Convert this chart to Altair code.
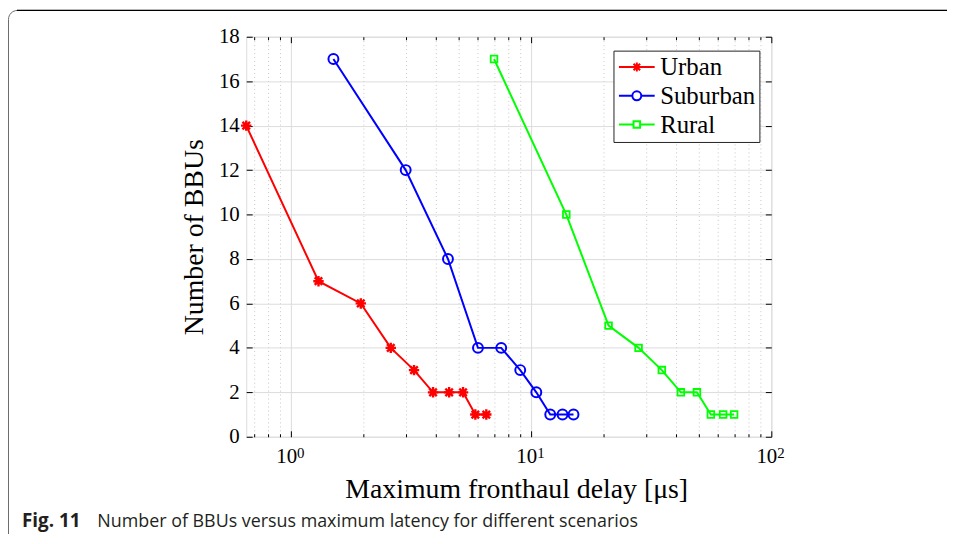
import altair as alt
import pandas as pd

# ---------------- data ----------------
series_names = ["Urban", "Suburban", "Rural"]
series_colors = ["#ff0000", "#0000ff", "#00ff00"]

urban_delay = [0.65, 1.3, 1.95, 2.6, 3.25, 3.9, 4.55, 5.2, 5.85, 6.5]
urban_bbus = [14, 7, 6, 4, 3, 2, 2, 2, 1, 1]
suburban_delay = [1.5, 3.0, 4.5, 6.0, 7.5, 9.0, 10.5, 12.0, 13.5, 15.0]
suburban_bbus = [17, 12, 8, 4, 4, 3, 2, 1, 1, 1]
rural_delay = [7, 14, 21, 28, 35, 42, 49, 56, 63, 70]
rural_bbus = [17, 10, 5, 4, 3, 2, 2, 1, 1, 1]

x_tick_values = [0.7, 0.8, 0.9, 1, 2, 3, 4, 5, 6, 7, 8, 9,
                 10, 20, 30, 40, 50, 60, 70, 80, 90, 100]
x_major_values = [1, 10, 100]
x_major_base = "10"
x_major_exponents = ["0", "1", "2"]
y_tick_values = [0, 2, 4, 6, 8, 10, 12, 14, 16, 18]

x_title = "Maximum fronthaul delay [\u03bcs]"
y_title = "Number of BBUs"
caption_label = "Fig. 11"
caption_text = "Number of BBUs versus maximum latency for different scenarios"

# ---------------- tables ----------------
rows = []
for name, xs, ys in [("Urban", urban_delay, urban_bbus),
                     ("Suburban", suburban_delay, suburban_bbus),
                     ("Rural", rural_delay, rural_bbus)]:
    for i, (xv, yv) in enumerate(zip(xs, ys)):
        rows.append({"series": name, "delay": xv, "bbus": yv, "order": i})
df = pd.DataFrame(rows)
exp_df = pd.DataFrame({"v": x_major_values, "e": x_major_exponents})

SERIF = "Liberation Serif"
SANS = "Open Sans"
W, H = 529, 403
PAD_L, PAD_T, PAD_R, PAD_B = 240, 27, 177, 96

major_test = " || ".join(f"datum.value == {v}" for v in x_major_values)
label_expr = "(" + major_test + f") ? '{x_major_base}' : ''"

xscale = alt.Scale(type="log", domain=[0.65, 100], nice=False)
yscale = alt.Scale(domain=[0, 18], nice=False, zero=False)

main_x_axis = alt.Axis(
    values=x_tick_values, labelExpr=label_expr, labelFont=SERIF, labelFontSize=21,
    labelColor="black", labelPadding=9, labelFlush=False, labelOverlap=False,
    labelOffset=-5,
    ticks=False, domain=False, grid=True,
    gridColor={"condition": {"test": major_test, "value": "#dcdcdc"}, "value": "#c8c8c8"},
    gridDash={"condition": {"test": major_test, "value": []}, "value": [1, 3]},
    title=x_title, titleFont=SERIF, titleFontSize=28, titleFontWeight="normal",
    titleColor="black", titleX=272, titleY=61, titleBaseline="alphabetic",
)
main_y_axis = alt.Axis(
    values=y_tick_values, labelFont=SERIF, labelFontSize=21, labelColor="black",
    labelPadding=7, labelFlush=False, ticks=False, domain=False, grid=True,
    gridColor="#dcdcdc",
    title=y_title, titleFont=SERIF, titleFontSize=28, titleFontWeight="normal",
    titleColor="black", titleX=-52, titleY=H / 2, titleBaseline="middle", titleAngle=270,
)

def x_tick_axis(orient, offset):
    return alt.Axis(orient=orient, offset=offset, values=x_tick_values, labels=False,
                    domain=False, grid=False, title=None, ticks=True, tickColor="black",
                    tickWidth=1,
                    tickSize={"condition": {"test": major_test, "value": 6}, "value": 3})

def y_tick_axis(orient, offset):
    return alt.Axis(orient=orient, offset=offset, values=y_tick_values, labels=False,
                    domain=False, grid=False, title=None, ticks=True, tickColor="black",
                    tickWidth=1, tickSize=6)

base = alt.Chart(df)

def line_layer(i, xaxis, yaxis):
    return base.transform_filter(alt.datum.series == series_names[i]).mark_line(
        strokeWidth=2, clip=False, color=series_colors[i]
    ).encode(
        x=alt.X("delay:Q", scale=xscale, axis=xaxis),
        y=alt.Y("bbus:Q", scale=yscale, axis=yaxis),
        order="order:Q",
    )

line_u = line_layer(0, main_x_axis, main_y_axis)
line_s = line_layer(1, None, None)
line_r = line_layer(2, None, None)

ASTER = "M-1,0H1M0,-1V1M-0.72,-0.72L0.72,0.72M-0.72,0.72L0.72,-0.72"

m_urban = base.transform_filter(alt.datum.series == "Urban").mark_point(
    shape=ASTER, size=110, filled=False, strokeWidth=2.4, color=series_colors[0], opacity=1
).encode(
    x=alt.X("delay:Q", scale=xscale, axis=x_tick_axis("top", -H)),
    y=alt.Y("bbus:Q", scale=yscale, axis=y_tick_axis("right", -W)),
)
m_sub = base.transform_filter(alt.datum.series == "Suburban").mark_point(
    shape="circle", size=100, filled=False, strokeWidth=2, color=series_colors[1], opacity=1
).encode(
    x=alt.X("delay:Q", scale=xscale, axis=x_tick_axis("bottom", -H)),
    y=alt.Y("bbus:Q", scale=yscale, axis=y_tick_axis("left", -W)),
)
m_rural = base.transform_filter(alt.datum.series == "Rural").mark_point(
    shape="square", size=45, filled=False, strokeWidth=1.8, color=series_colors[2], opacity=1
).encode(
    x=alt.X("delay:Q", scale=xscale, axis=None),
    y=alt.Y("bbus:Q", scale=yscale, axis=None),
)

# exponent of the 10^n tick labels
exps = alt.Chart(exp_df).mark_text(
    font=SERIF, fontSize=15, color="black", align="left", baseline="alphabetic", dx=6
).encode(
    x=alt.X("v:Q", scale=xscale, axis=None),
    y=alt.value(H + 21),
    text="e:N",
)

legend_shapes = [
    "M-1.8,0H1.8" + "M-0.45,0H0.45M0,-0.45V0.45M-0.33,-0.33L0.33,0.33M-0.33,0.33L0.33,-0.33",
    "M-1.8,0H-0.45M0.45,0H1.8M-0.45,0A0.45,0.45 0 1,0 0.45,0A0.45,0.45 0 1,0 -0.45,0",
    "M-1.8,0H-0.33M0.33,0H1.8M-0.33,-0.33H0.33V0.33H-0.33Z",
]
legend_def = alt.Legend(
    orient="none", legendX=370, legendY=14, title=None, labelFont=SERIF, labelFontSize=25,
    labelColor="black", strokeColor="#222222", fillColor="white", padding=4,
    symbolOffset=7, labelOffset=11, rowPadding=3, symbolStrokeWidth=2, symbolSize=400,
)
legend_layer = base.transform_filter("false").mark_point(
    filled=False, size=400, strokeWidth=2, opacity=1
).encode(
    color=alt.Color("series:N", scale=alt.Scale(domain=series_names, range=series_colors),
                    legend=legend_def),
    shape=alt.Shape("series:N", scale=alt.Scale(domain=series_names, range=legend_shapes),
                    legend=legend_def),
)

cap_df = pd.DataFrame({"label": [caption_label], "text": [caption_text]})
cap_bold = alt.Chart(cap_df).mark_text(
    font=SANS, fontSize=19, fontWeight="bold", color="#231f20", align="left", baseline="alphabetic"
).encode(text="label:N", x=alt.value(22 - 8 - PAD_L), y=alt.value(529 - 8 - PAD_T))
cap_norm = alt.Chart(cap_df).mark_text(
    font=SANS, fontSize=18, color="#231f20", align="left", baseline="alphabetic"
).encode(text="text:N", x=alt.value(98 - 8 - PAD_L), y=alt.value(529 - 8 - PAD_T))

border = alt.Chart(cap_df).mark_rect(
    fill=None, stroke="#6b6b6b", strokeWidth=1, cornerRadius=9
).encode(x=alt.value(-PAD_L + 0.5), x2=alt.value(W + PAD_R + 30),
         y=alt.value(-PAD_T + 0.5), y2=alt.value(H + PAD_B + 30))
top_rule = alt.Chart(cap_df).mark_rule(color="black", strokeWidth=1.3).encode(
    x=alt.value(-PAD_L + 9), x2=alt.value(W + PAD_R + 30), y=alt.value(-PAD_T + 0.5))

chart = alt.layer(
    border, top_rule, line_u, line_s, line_r, m_urban, m_sub, m_rural, exps,
    legend_layer, cap_bold, cap_norm
).resolve_axis(x="independent", y="independent").properties(
    width=W, height=H, autosize="none",
    padding={"left": PAD_L, "top": PAD_T, "right": PAD_R, "bottom": PAD_B},
).configure_view(stroke="#262626", strokeWidth=1).configure(background="white")

chart.save("out.html", embed_options={"renderer": "svg", "actions": False})
